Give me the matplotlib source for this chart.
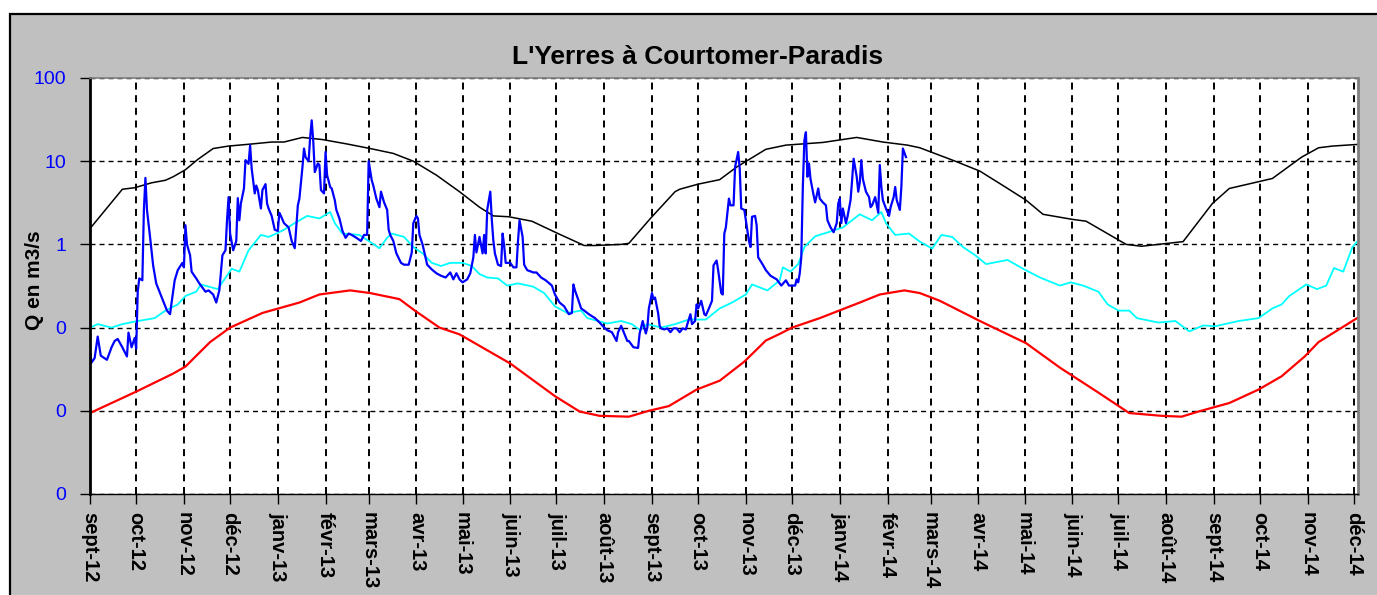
import matplotlib
matplotlib.use('Agg')
import matplotlib.pyplot as plt
import matplotlib.ticker as mticker
from matplotlib.patches import Rectangle
import pandas as pd

plt.rcParams['font.family'] = ['Liberation Sans', 'DejaVu Sans']

# jours depuis le 1er septembre 2012, débits en m3/s
start = pd.Timestamp('2012-09-01')

month_labels = ['sept-12', 'oct-12', 'nov-12', 'déc-12', 'janv-13', 'févr-13', 'mars-13',
                'avr-13', 'mai-13', 'juin-13', 'juil-13', 'août-13', 'sept-13', 'oct-13',
                'nov-13', 'déc-13', 'janv-14', 'févr-14', 'mars-14', 'avr-14', 'mai-14',
                'juin-14', 'juil-14', 'août-14', 'sept-14', 'oct-14', 'nov-14', 'déc-14']

# débits journaliers observés
blue_days = [0, 1, 3, 5, 7, 11, 14, 16, 18, 21, 24, 25, 27, 29, 30, 31, 32, 34, 35, 36, 37, 39,
             41, 43, 47, 50, 52, 53, 55, 57, 60, 61, 62, 63, 65, 66, 69, 71, 75, 77, 80, 82, 84,
             86, 88, 89, 90, 91, 93, 95, 96, 97, 98, 100, 101, 103, 104, 105, 107, 108, 109, 111,
             112, 114, 115, 116, 118, 120, 122, 123, 124, 126, 129, 131, 133, 135, 136, 138, 139,
             140, 142, 143, 144, 145, 146, 148, 149, 150, 152, 153, 154, 156, 157, 159, 160, 162,
             164, 166, 168, 170, 173, 176, 178, 180, 181, 183, 184, 186, 188, 189, 191, 193, 194,
             195, 197, 199, 202, 204, 207, 209, 210, 212, 213, 214, 216, 219, 222, 225, 228, 231,
             234, 236, 238, 240, 242, 245, 247, 249, 250, 251, 253, 255, 256, 257, 258, 260, 261,
             262, 263, 265, 267, 268, 269, 270, 273, 275, 277, 278, 279, 281, 282, 284, 288, 290,
             293, 296, 300, 302, 305, 308, 311, 313, 314, 315, 317, 319, 321, 324, 328, 331, 334,
             336, 339, 342, 343, 345, 347, 349, 350, 353, 356, 357, 359, 361, 362, 363, 365, 366,
             367, 369, 370, 371, 373, 375, 377, 379, 381, 383, 385, 387, 388, 390, 391, 393, 394,
             395, 397, 399, 400, 402, 404, 405, 407, 408, 410, 411, 412, 413, 415, 416, 418, 419,
             421, 422, 423, 425, 427, 428, 429, 430, 432, 433, 434, 437, 439, 442, 446, 449, 452,
             454, 458, 459, 460, 461, 462, 463, 464, 465, 466, 467, 468, 470, 471, 473, 474, 476,
             478, 479, 481, 483, 485, 486, 487, 488, 489, 491, 492, 494, 495, 496, 498, 499, 500,
             501, 502, 504, 506, 507, 508, 510, 512, 513, 514, 515, 517, 519, 520, 522, 523, 524,
             526, 527, 528, 530]
blue_q = [0.050, 0.038, 0.043, 0.078, 0.046, 0.041, 0.058, 0.069, 0.073, 0.058, 0.045, 0.087,
          0.058, 0.075, 0.056, 0.27, 0.39, 0.37, 2.6, 6.3, 2.6, 1.23, 0.56, 0.34, 0.22, 0.16,
          0.145, 0.2, 0.37, 0.49, 0.6, 0.53, 1.7, 1.0, 0.74, 0.47, 0.39, 0.34, 0.27, 0.28, 0.25,
          0.2, 0.28, 0.74, 0.85, 1.95, 3.7, 1.35, 0.85, 1.1, 3.6, 1.95, 3.1, 4.7, 10.3, 9.3, 15.5,
          8.2, 4.1, 5.1, 4.5, 2.7, 4.5, 5.3, 3.1, 2.7, 2.2, 1.5, 1.45, 2.4, 2.2, 1.8, 1.6, 1.1,
          0.9, 2.95, 3.55, 8.5, 14.2, 11.2, 10, 19.5, 31, 17.5, 7.4, 9.4, 9, 4.5, 4.1, 12.9, 6.8,
          4.9, 4.7, 3.4, 2.6, 2.05, 1.45, 1.2, 1.35, 1.3, 1.2, 1.1, 1.3, 1.3, 10, 5.9, 5.1, 3.55,
          2.8, 4.3, 3.2, 2.6, 1.5, 1.3, 1.1, 0.78, 0.6, 0.57, 0.57, 0.8, 1.8, 2.2, 2.05, 1.3, 1.0,
          0.57, 0.5, 0.45, 0.42, 0.4, 0.46, 0.38, 0.45, 0.38, 0.35, 0.38, 0.45, 0.7, 1.3, 0.8,
          1.23, 0.78, 1.3, 0.78, 2.6, 4.3, 1.95, 1.1, 0.78, 0.57, 0.55, 1.35, 0.97, 0.6, 0.6,
          0.53, 0.53, 1.1, 1.95, 1.23, 0.57, 0.49, 0.46, 0.46, 0.4, 0.37, 0.32, 0.25, 0.2, 0.18,
          0.145, 0.15, 0.33, 0.28, 0.22, 0.17, 0.16, 0.145, 0.13, 0.115, 0.1, 0.093, 0.088,
          0.069, 0.088, 0.105, 0.085, 0.069, 0.069, 0.058, 0.057, 0.085, 0.12, 0.085, 0.1, 0.17,
          0.26, 0.22, 0.23, 0.15, 0.105, 0.098, 0.095, 0.098, 0.088, 0.098, 0.098, 0.088, 0.098,
          0.095, 0.11, 0.145, 0.11, 0.12, 0.19, 0.17, 0.21, 0.145, 0.14, 0.17, 0.21, 0.56, 0.64,
          0.49, 0.26, 0.25, 1.35, 1.6, 3.55, 2.95, 2.95, 8.5, 12.9, 8.2, 2.7, 2.6, 1.45, 1.1,
          0.93, 2.15, 2.2, 1.7, 0.7, 0.57, 0.49, 0.42, 0.38, 0.32, 0.37, 0.32, 0.32, 0.38, 0.35,
          0.45, 0.7, 4.9, 17.8, 22.3, 6.5, 9.4, 6.1, 3.9, 3.2, 4.7, 3.55, 3.2, 2.95, 1.95, 1.6,
          1.4, 1.8, 3.1, 3.55, 1.8, 2.7, 1.8, 2.15, 3.4, 5.9, 10.7, 6.5, 4.3, 5.6, 10.3, 6.1,
          4.3, 3.7, 2.8, 2.95, 3.7, 2.4, 9.0, 4.9, 3.4, 2.7, 2.2, 2.8, 3.7, 4.9, 3.4, 2.6, 4.9,
          14.2, 11.2]

# courbe haute (noire)
black_days = [0, 21, 29, 40, 49, 54, 62, 70, 80, 90, 105, 118, 126, 138, 151, 167, 182, 197,
              210, 225, 240, 253, 262, 272, 287, 304, 321, 328, 345, 350, 364, 380, 383, 395,
              409, 420, 439, 452, 476, 498, 515, 531, 539, 562, 578, 593, 608, 619, 638, 647,
              673, 683, 710, 729, 740, 768, 787, 798, 807, 823]
black_q = [1.55, 4.6, 4.8, 5.5, 5.9, 6.5, 7.9, 10.5, 14.2, 15.2, 16.1, 17, 17, 19.3, 18.2,
           16.1, 14.2, 12.4, 10, 6.8, 4.3, 2.8, 2.2, 2.15, 1.9, 1.35, 0.97, 0.97, 1.0, 1.03,
           2.05, 4.3, 4.6, 5.3, 6.0, 8.5, 13.9, 15.6, 16.8, 19.3, 17, 15.6, 14.5, 10, 7.6, 5.1,
           3.4, 2.3, 2.0, 1.9, 1.0, 0.95, 1.08, 3.1, 4.7, 6.2, 11.2, 14.5, 15.2, 15.9]

# courbe médiane (cyan)
cyan_days = [0, 5, 14, 21, 29, 42, 49, 57, 62, 69, 72, 83, 92, 97, 103, 107, 111, 116, 121,
             126, 134, 141, 149, 156, 159, 164, 175, 181, 188, 193, 196, 204, 210, 216, 222,
             228, 234, 242, 248, 253, 258, 265, 271, 278, 288, 295, 302, 310, 319, 323, 336,
             345, 352, 357, 362, 371, 380, 389, 400, 409, 417, 426, 430, 440, 448, 450, 455,
             460, 464, 471, 482, 489, 500, 508, 514, 517, 523, 532, 539, 547, 553, 560, 567,
             575, 582, 596, 606, 617, 630, 637, 645, 655, 661, 668, 675, 680, 694, 705, 714,
             723, 731, 746, 759, 768, 774, 779, 790, 797, 803, 808, 814, 820, 823]
cyan_q = [0.1, 0.11, 0.1, 0.11, 0.118, 0.13, 0.16, 0.19, 0.24, 0.27, 0.33, 0.29, 0.51, 0.47,
          0.85, 1.05, 1.3, 1.23, 1.35, 1.5, 1.85, 2.2, 2.05, 2.45, 1.8, 1.35, 1.3, 1.1, 0.9,
          1.2, 1.35, 1.23, 0.93, 0.78, 0.6, 0.55, 0.6, 0.6, 0.55, 0.44, 0.4, 0.39, 0.32, 0.34,
          0.31, 0.26, 0.18, 0.15, 0.16, 0.13, 0.112, 0.12, 0.11, 0.094, 0.11, 0.1, 0.11, 0.125,
          0.125, 0.17, 0.2, 0.25, 0.33, 0.28, 0.37, 0.53, 0.47, 0.58, 0.93, 1.25, 1.45, 1.6,
          2.3, 1.95, 2.45, 1.8, 1.3, 1.35, 1.08, 0.89, 1.3, 1.23, 0.93, 0.74, 0.58, 0.65, 0.51,
          0.4, 0.32, 0.35, 0.32, 0.27, 0.19, 0.16, 0.16, 0.13, 0.115, 0.12, 0.09, 0.106, 0.104,
          0.12, 0.13, 0.17, 0.19, 0.24, 0.33, 0.29, 0.32, 0.52, 0.47, 0.93, 1.08]

# courbe basse (rouge)
red_days = [0, 30, 54, 62, 78, 91, 112, 136, 149, 169, 182, 201, 211, 227, 240, 273, 302, 318,
            331, 350, 363, 376, 394, 409, 425, 439, 448, 456, 474, 500, 513, 529, 539, 552,
            578, 608, 630, 654, 675, 696, 709, 720, 740, 759, 774, 789, 798, 823]
red_q = [0.0094, 0.017, 0.028, 0.034, 0.067, 0.1, 0.15, 0.2, 0.25, 0.28, 0.26, 0.22, 0.16,
         0.1, 0.083, 0.037, 0.015, 0.0098, 0.0087, 0.0085, 0.01, 0.0114, 0.018, 0.023, 0.039,
         0.07, 0.084, 0.1, 0.13, 0.2, 0.25, 0.28, 0.26, 0.21, 0.12, 0.065, 0.033, 0.017,
         0.0094, 0.0087, 0.0085, 0.0098, 0.0124, 0.018, 0.026, 0.045, 0.067, 0.13]


def to_dates(days):
    return start + pd.to_timedelta(days, unit='D')


fig = plt.figure(figsize=(13.77, 5.95), dpi=100)
fig.patch.set_facecolor('white')
fig.add_artist(Rectangle((10 / 1377, -0.05), 1.1, 1 - 14 / 595 + 0.05, transform=fig.transFigure,
                         facecolor='#c0c0c0', edgecolor='black', linewidth=1.6, zorder=-1))

ax = fig.add_axes([90 / 1377, 1 - 494 / 595, 1268 / 1377, 416 / 595])
ax.set_facecolor('white')

ax.plot(to_dates(black_days), black_q, color='black', linewidth=1.1)
ax.plot(to_dates(cyan_days), cyan_q, color='#00ffff', linewidth=1.3)
ax.plot(to_dates(red_days), red_q, color='#ff0000', linewidth=1.6)
ax.plot(to_dates(blue_days), blue_q, color='#0000ff', linewidth=1.6)

ax.set_yscale('log')
ax.set_ylim(0.001, 100)
ax.set_yticks([0.001, 0.01, 0.1, 1, 10, 100])
ax.yaxis.set_minor_locator(mticker.NullLocator())
ax.yaxis.set_major_formatter(mticker.FuncFormatter(lambda v, p: f'{v:.0f}'))
ax.tick_params(axis='y', colors='black', labelcolor='#0000ff', labelsize=14,
               length=7, width=1, pad=10)

ticks = pd.date_range('2012-09-01', '2014-12-01', freq='MS')
ax.set_xlim(start, start + pd.Timedelta(days=823.6))
ax.set_xticks(ticks)
ax.set_xticklabels(month_labels, rotation=270, fontweight='bold', fontsize=14.5)
ax.tick_params(axis='x', length=7, width=1, pad=6)

ax.set_axisbelow(True)
ax.grid(axis='x', color='black', linestyle=(0, (3.6, 2.9)), linewidth=1.4)
ax.grid(axis='y', color='black', linestyle=(0, (3.6, 2.9)), linewidth=1.0)

ax.spines['left'].set_linewidth(2)
ax.spines['bottom'].set_linewidth(1)
ax.spines['top'].set_color('#808080')
ax.spines['top'].set_linewidth(1.2)
ax.spines['right'].set_color('#808080')
ax.spines['right'].set_linewidth(2)

fig.text(698 / 1377, 1 - 57 / 595, "L'Yerres à Courtomer-Paradis", ha='center', va='center',
         fontsize=19, fontweight='bold')
fig.text(35 / 1377, 1 - 280 / 595, 'Q en m3/s', rotation=90, ha='center', va='center',
         fontsize=15, fontweight='bold')

fig.savefig('out.png', dpi=100)
